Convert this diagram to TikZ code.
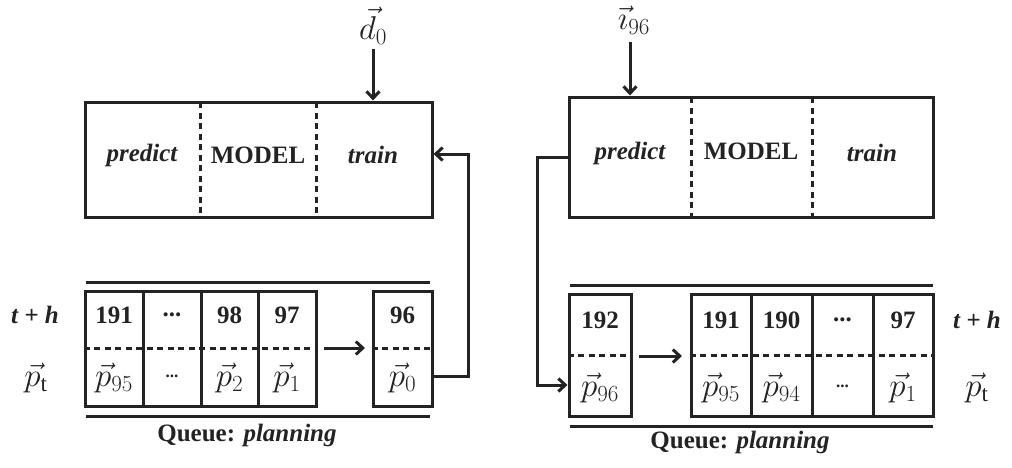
\RequirePackage{fix-cm}
\documentclass[tikz,border=0pt]{standalone}
\usepackage{fontspec}
\setmainfont{Liberation Serif}
\usetikzlibrary{arrows.meta,calc}
\definecolor{ink}{RGB}{35,35,35}
\begin{document}
\begin{tikzpicture}[x=1pt,y=-1pt,
  line width=3pt, draw=ink, text=ink,
  box/.style={draw=ink, line width=3pt, rectangle, inner sep=0pt},
  cell/.style={draw=ink, line width=3pt, rectangle, inner sep=0pt},
  divider/.style={draw=ink, line width=3pt, dash pattern=on 6pt off 4.5pt},
  arr/.style={-{Straight Barb[length=7pt,width=13pt,line width=3pt]}, draw=ink, line width=3pt},
  num/.style={font=\fontsize{25}{28}\selectfont\bfseries, inner sep=0pt},
  lbl/.style={font=\fontsize{25}{28}\selectfont\bfseries\itshape, inner sep=0pt},
  mth/.style={font=\fontsize{33}{37}\selectfont, inner sep=0pt},
  dts/.style={font=\fontsize{17}{19}\selectfont\bfseries, inner sep=0pt},
  qline/.style={draw=ink, line width=3pt}
]
\useasboundingbox (0,0) rectangle (1012,467);

% ---------------- Left part ----------------
\node[box, minimum width=347pt, minimum height=115pt] (lmodel) at (258.5,159.5) {};
\draw[divider] (200,102) -- (200,217);
\draw[divider] (316,102) -- (316,217);
\node[lbl] (lpredict) at (142,155) {predict};
\node[num] (lmodeltxt) at (258,155) {MODEL};
\node[lbl] (ltrain) at (373,155) {train};

\node[mth] (dlabel) at (373,26) {$\vec{d}_{0}$};
\coordinate (dtop) at (373,49);
\draw[arr] (dtop) -- (dtop |- lmodel.north);

% queue lines
\coordinate (lqt1) at (86,282); \coordinate (lqt2) at (430,282);
\coordinate (lqb1) at (86,416); \coordinate (lqb2) at (430,416);
\draw[qline] (lqt1) -- (lqt2);
\draw[qline] (lqb1) -- (lqb2);

% cells
\node[cell, minimum width=58pt, minimum height=115pt] (l191) at (114,348.5) {};
\node[cell, minimum width=58pt, minimum height=115pt] (ldots) at (172,348.5) {};
\node[cell, minimum width=57pt, minimum height=115pt] (l98) at (229.5,348.5) {};
\node[cell, minimum width=58pt, minimum height=115pt] (l97) at (287,348.5) {};
\node[cell, minimum width=59pt, minimum height=115pt] (l96) at (402.5,348.5) {};
\draw[divider] (l191.west) -- (l97.east);
\draw[divider] (l96.west) -- (l96.east);
\coordinate (la1) at (324,348); \coordinate (la2) at (365,348);
\draw[arr] (la1) -- (la2);

\node[num] at (114,315) {191};
\node[num] at (172,315) {...};
\node[num] at (229.5,315) {98};
\node[num] at (287,315) {97};
\node[num] at (402.5,315) {96};
\node[mth] at (114,378) {$\vec{p}_{95}$};
\node[dts] at (172,376) {...};
\node[mth] at (229.5,378) {$\vec{p}_{2}$};
\node[mth] at (287,378) {$\vec{p}_{1}$};
\node[mth] at (402.5,378) {$\vec{p}_{0}$};

\node[lbl] (lth) at (35,315) {t + h};
\node[mth] (lpt) at (36,378) {$\vec{p}_{\mathrm{t}}$};
\node[num] (lqueue) at (247,435) {Queue: \textit{planning}};

% feedback
\draw[arr] ([yshift=-27.5pt]l96.east) -- ++(35,0) |- ([yshift=5.5pt]lmodel.east);

% ---------------- Right part ----------------
\node[box, minimum width=364pt, minimum height=120pt] (rmodel) at (751,157) {};
\draw[divider] (691,97) -- (691,217);
\draw[divider] (812,97) -- (812,217);
\node[lbl] (rpredict) at (630,153) {predict};
\node[num] (rmodeltxt) at (751,151) {MODEL};
\node[lbl] (rtrain) at (872,153) {train};

\node[mth] (ilabel) at (634,20) {$\vec{\imath}_{96}$};
\coordinate (itop) at (630,42);
\draw[arr] (itop) -- (itop |- rmodel.north);

\coordinate (rqt1) at (570,285); \coordinate (rqt2) at (933,285);
\coordinate (rqb1) at (570,426); \coordinate (rqb2) at (933,426);
\draw[qline] (rqt1) -- (rqt2);
\draw[qline] (rqb1) -- (rqb2);

\node[cell, minimum width=62pt, minimum height=122pt] (r192) at (600,355) {};
\node[cell, minimum width=60pt, minimum height=122pt] (r191) at (721,355) {};
\node[cell, minimum width=61pt, minimum height=122pt] (r190) at (781.5,355) {};
\node[cell, minimum width=61pt, minimum height=122pt] (rdots) at (842.5,355) {};
\node[cell, minimum width=60pt, minimum height=122pt] (r97) at (903,355) {};
\draw[divider] (r192.west) -- (r192.east);
\draw[divider] (r191.west) -- (r97.east);
\coordinate (ra1) at (639,356); \coordinate (ra2) at (682,356);
\draw[arr] (ra1) -- (ra2);

\node[num] at (600,320) {192};
\node[num] at (721,320) {191};
\node[num] at (781.5,320) {190};
\node[num] at (842.5,320) {...};
\node[num] at (903,320) {97};
\node[mth] at (600,388) {$\vec{p}_{96}$};
\node[mth] at (721,388) {$\vec{p}_{95}$};
\node[mth] at (781.5,388) {$\vec{p}_{94}$};
\node[dts] at (842.5,386) {...};
\node[mth] at (903,388) {$\vec{p}_{1}$};

\node[lbl] (rth) at (977,320) {t + h};
\node[mth] (rpt) at (977,388) {$\vec{p}_{\mathrm{t}}$};
\node[num] (rqueue) at (740,442) {Queue: \textit{planning}};

\draw[arr] (rmodel.west) -- ++(-30,0) |- ([yshift=-30pt]r192.west);
\end{tikzpicture}
\end{document}
